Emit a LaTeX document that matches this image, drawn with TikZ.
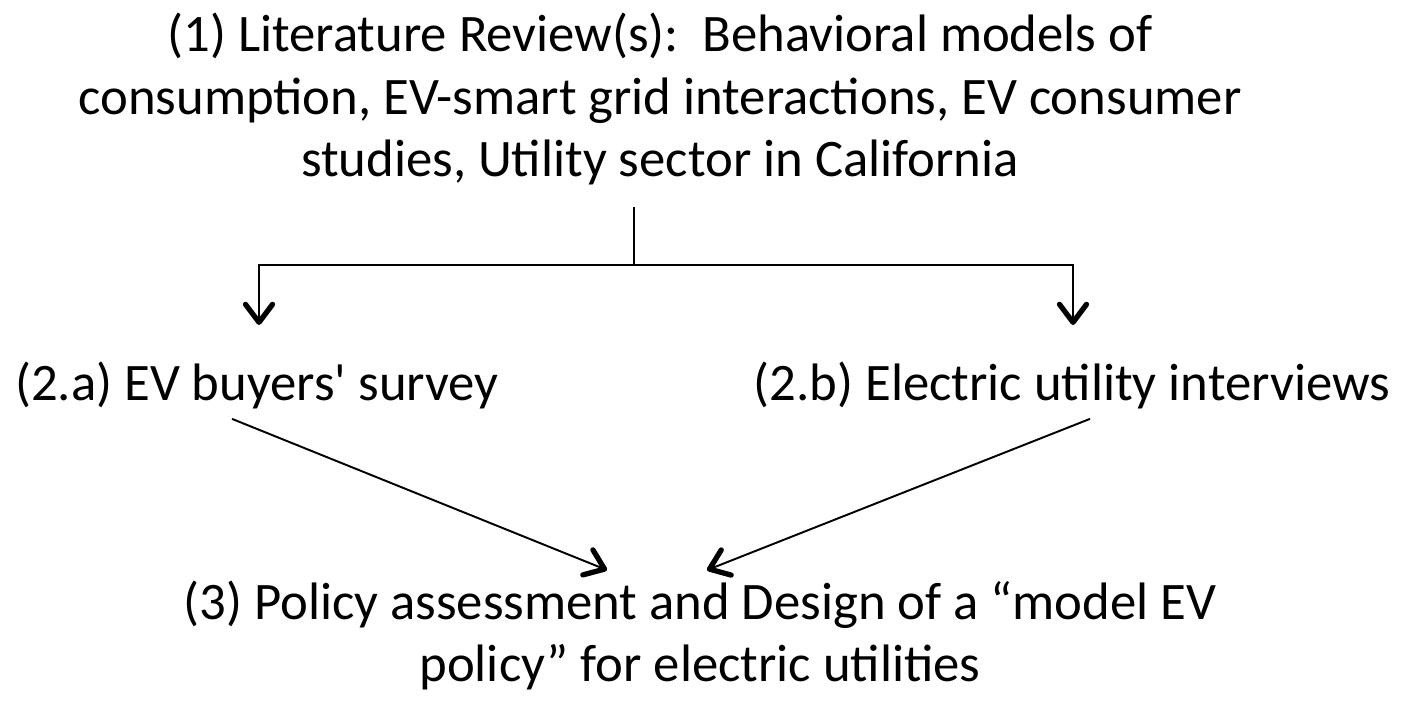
\documentclass[tikz,border=0pt]{standalone}
\usepackage{fontspec}
\setmainfont{Carlito}
\usetikzlibrary{arrows.meta,positioning,calc}
\tikzset{
    stage/.style={align=center, font=\fontsize{30}{35.3}\selectfont\frenchspacing, inner sep=0pt},
    line/.style={draw, line width=1.1pt},
    arrow/.style={line, -{Straight Barb[length=3.6mm,width=5.4mm,line width=3pt,round]}}
}

\begin{document}
\begin{tikzpicture}
    \useasboundingbox (0,0) rectangle (28.06,14.32);

    % Stage 1
    \node [stage] (lit) at (13.2,12.34) {(1) Literature Review(s):~ Behavioral models of\\
        consumption, EV-smart grid interactions, EV consumer\\
        studies, Utility sector in California};

    % Stage 2
    \node [stage] (survey) at (5.14,6.62) {(2.a) EV buyers\textquotesingle\ survey};
    \node [stage] (utility) at (21.44,6.62) {(2.b) Electric utility interviews};

    % Stage 3
    \node [stage] (policy) at (14.0,1.62) {(3) Policy assessment and Design of a “model EV\\
        policy” for electric utilities};

    % Split
    \coordinate (top) at (12.68,10.18);
    \coordinate (split) at (12.68,9.02);
    \coordinate (toL) at (5.18,7.82);
    \coordinate (toR) at (21.46,7.82);

    \path [line] (top) -- (split);
    \path [arrow] (split) -| (toL);
    \path [arrow] (split) -| (toR);

    % Merge
    \path [arrow] ([xshift=-0.5cm]survey.south) ++(0,-0.2) coordinate (fromL) -- ($(policy.north)+(-1.86,0.2)$);
    \path [arrow] ([xshift=0.36cm]utility.south) ++(0,-0.2) coordinate (fromR) -- ($(policy.north)+(0.14,0.2)$);
\end{tikzpicture}
\end{document}
